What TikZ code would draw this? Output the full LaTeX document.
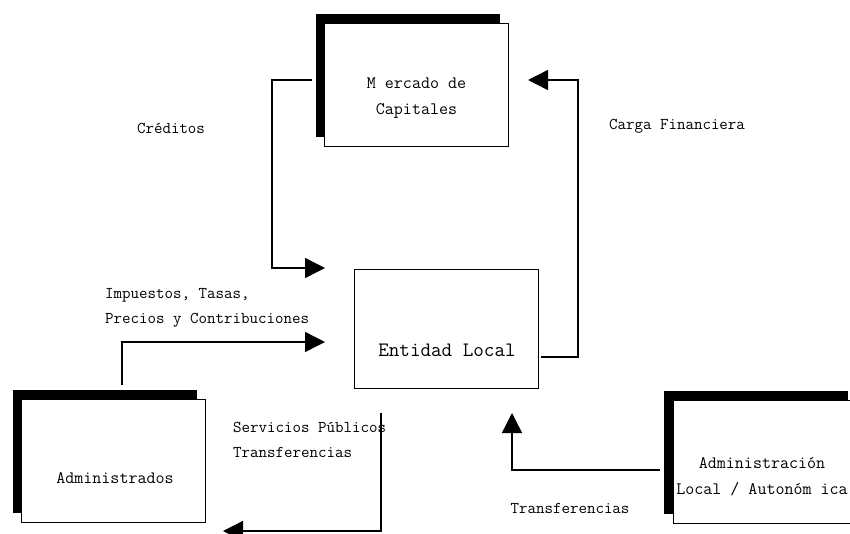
\documentclass[tikz,border=0pt]{standalone}
\usepackage{fontspec}
\usepackage{tikz}
\usetikzlibrary{positioning}
\usetikzlibrary{arrows.meta}
\usetikzlibrary{shadows}
\tikzstyle{sbx}=[draw, line width=1pt, fill=white, shape=rectangle, minimum width=184pt, minimum height=123pt, drop shadow={shadow xshift=-9pt, shadow yshift=9.5pt, fill=black, opacity=1}]
\tikzstyle{ebx}=[draw, line width=1pt, fill=white, shape=rectangle, minimum width=184pt, minimum height=119pt]
\tikzstyle{btx}=[font=\ttfamily\fontsize{17.5}{26}\selectfont, align=center, inner sep=0pt]
\tikzstyle{ltx}=[font=\ttfamily\fontsize{16.5}{25}\selectfont, align=left, inner sep=0pt]
\tikzstyle{etx}=[font=\ttfamily\fontsize{20.5}{26}\selectfont, inner sep=0pt]
\tikzstyle{farrow}=[line width=1.4pt, -{Triangle[length=20pt,width=20pt]}, color=black]
\def\sbx{\node[style=sbx]}
\def\ebx{\node[style=ebx]}
\def\btx{\node[style=btx]}
\def\ltx{\node[style=ltx]}
\def\farrow{\draw[style=farrow]}

\begin{document}
\begin{tikzpicture}[x=1pt, y=-1pt]
      \useasboundingbox (0,0) rectangle (850,533);
      % boxes
      \sbx (mercado)  at (416.5,84.5) {};
      \sbx (admin)    at (113.5,460.5) {};
      \sbx (adminloc) at (765,462) {};
      \ebx (entidad)  at (446,328.5) {};

      \btx (mercadoT)  at ([yshift=-13.5pt]mercado.center)  {M ercado de\\Capitales};
      \btx (adminT)    at ([xshift=1.5pt,yshift=-17.5pt]admin.center) {Administrados};
      \btx (adminlocT) at ([xshift=-3pt,yshift=-15pt]adminloc.center) {Administración\\Local / Autonóm ica};
      \node[style=etx] (entidadT) at ([xshift=1pt,yshift=-21.5pt]entidad.center) {Entidad Local};

      % labels
      \ltx (credT)  at (171,128) {Créditos};
      \ltx (cargaT) at (677,126) {Carga Financiera};
      \ltx (impT)   [anchor=west] at (105,308) {Impuestos, Tasas,\\Precios y Contribuciones};
      \ltx (servT)  [anchor=west] at (233,440) {Servicios Públicos\\Transferencias};
      \ltx (transT) at (570,508) {Transferencias};

      % flows
      \coordinate (credS)  at (312,80);
      \coordinate (credE)  at (325,268);
      \coordinate (cargaS) at (541,357);
      \coordinate (cargaE) at (528,80);
      \coordinate (impS)   at (122,385);
      \coordinate (impE)   at (325,342);
      \coordinate (servS)  at (381,413);
      \coordinate (servE)  at (223,531);
      \coordinate (transS) at (660,470);
      \coordinate (transE) at (512,413);

      \farrow (credS)  -- ++(-40,0) |- (credE);
      \farrow (cargaS) -- ++(37,0) |- (cargaE);
      \farrow (impS)   |- (impE);
      \farrow (servS)  |- (servE);
      \farrow (transS) -| (transE);
\end{tikzpicture}
\end{document}
